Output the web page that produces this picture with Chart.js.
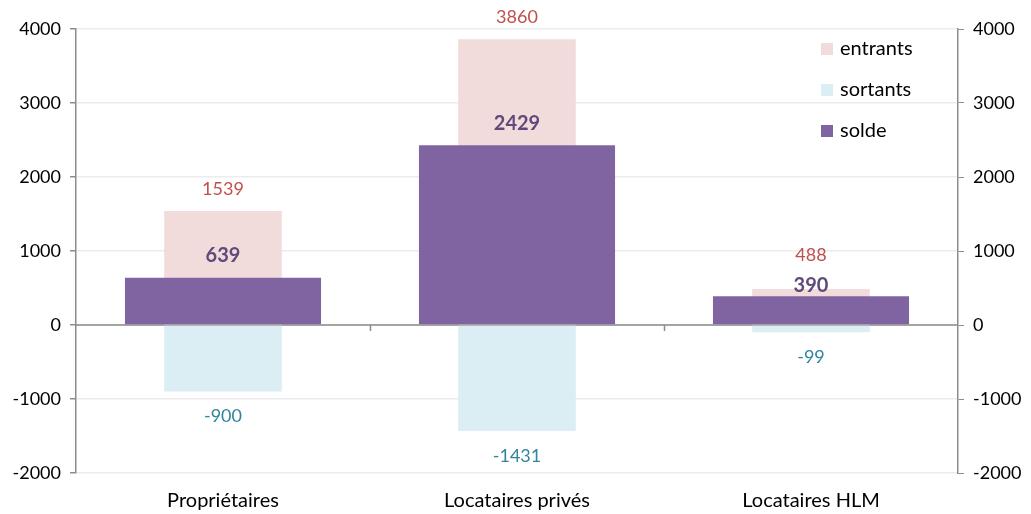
<!DOCTYPE html>
<html>
<head>
<meta charset="utf-8">
<script src="https://cdn.jsdelivr.net/npm/chart.js@4"></script>
<style>
html,body{margin:0;padding:0;background:#fff;overflow:hidden;}
#c{display:block;}
</style>
</head>
<body>
<canvas id="c" width="1031" height="514" style="width:1031px;height:514px;"></canvas>
<script>
const categories = ['Propriétaires', 'Locataires privés', 'Locataires HLM'];
const entrants = [1539, 3860, 488];
const sortants = [-900, -1431, -99];
const solde = [639, 2429, 390];
const yTicks = [-2000, -1000, 0, 1000, 2000, 3000, 4000];

const FONT = 'Lato, "Open Sans", sans-serif';
const COL_ENT = '#F2DCDB', COL_SORT = '#DAEEF3', COL_SOLDE = '#8064A2';
const LBL_ENT = '#C0504D', LBL_SORT = '#31859C', LBL_SOLDE = '#604A7B';
const AXIS = '#8c8c8c', GRID = '#ececec';

const labelsPlugin = {
  id: 'labels',
  afterDatasetsDraw(chart) {
    const ctx = chart.ctx;
    const mEnt = chart.getDatasetMeta(0), mSort = chart.getDatasetMeta(1), mSol = chart.getDatasetMeta(2);
    ctx.save();
    ctx.textAlign = 'center';
    ctx.textBaseline = 'middle';
    for (let i = 0; i < categories.length; i++) {
      const eb = mEnt.data[i], sb = mSort.data[i], ob = mSol.data[i];
      let soldeY = ob.y - 22;
      if (eb.y > ob.y - 30) soldeY = ob.y - 11;
      const entY = Math.min(eb.y - 22, soldeY - 30);
      ctx.font = '18px ' + FONT;
      ctx.fillStyle = LBL_ENT;
      ctx.fillText(String(entrants[i]), eb.x, entY);
      ctx.fillStyle = LBL_SORT;
      ctx.fillText(String(sortants[i]), sb.x, sb.y + 25);
      ctx.font = 'bold 20px ' + FONT;
      ctx.fillStyle = LBL_SOLDE;
      ctx.fillText(String(solde[i]), ob.x, soldeY);
    }
    ctx.restore();
  }
};

const axisPlugin = {
  id: 'zeroAxis',
  beforeDatasetsDraw(chart) {
    const ctx = chart.ctx, x = chart.scales.x, y = chart.scales.y;
    const y0 = y.getPixelForValue(0);
    ctx.save();
    ctx.strokeStyle = AXIS;
    ctx.lineWidth = 1.5;
    ctx.beginPath();
    ctx.moveTo(chart.chartArea.left, y0);
    ctx.lineTo(chart.chartArea.right, y0);
    for (let i = 1; i < categories.length; i++) {
      const bx = Math.round((x.getPixelForTick(i - 1) + x.getPixelForTick(i)) / 2) + 0.5;
      ctx.moveTo(bx, y0);
      ctx.lineTo(bx, y0 + 6);
    }
    ctx.stroke();
    ctx.restore();
  }
};

const legendPlugin = {
  id: 'customLegend',
  afterDraw(chart) {
    const ctx = chart.ctx, a = chart.chartArea;
    const items = [0, 1, 2].map(i => chart.data.datasets[i]);
    ctx.save();
    ctx.font = '20px ' + FONT;
    ctx.textBaseline = 'middle';
    ctx.textAlign = 'left';
    items.forEach((ds, k) => {
      const yy = a.top + 20 + k * 41;
      const xx = a.right - 137;
      ctx.fillStyle = ds.backgroundColor;
      ctx.fillRect(xx, yy - 6, 12, 12);
      ctx.fillStyle = '#000';
      ctx.fillText(ds.label, xx + 19, yy);
    });
    ctx.restore();
  }
};

const yCommon = {
  type: 'linear',
  min: -2000, max: 4000,
  afterBuildTicks(s) { s.ticks = yTicks.map(v => ({value: v})); },
  ticks: { color: '#000', font: {family: FONT, size: 18}, padding: 9, callback: v => String(v) },
  border: { color: AXIS, width: 1.5 }
};

new Chart(document.getElementById('c'), {
  type: 'bar',
  data: {
    labels: categories,
    datasets: [
      { label: 'entrants', data: entrants, backgroundColor: COL_ENT, barPercentage: 0.4, categoryPercentage: 1, grouped: false, order: 1 },
      { label: 'sortants', data: sortants, backgroundColor: COL_SORT, barPercentage: 0.4, categoryPercentage: 1, grouped: false, order: 2 },
      { label: 'solde', data: solde, backgroundColor: COL_SOLDE, barPercentage: 0.667, categoryPercentage: 1, grouped: false, order: 0 }
    ]
  },
  options: {
    responsive: false,
    animation: false,
    devicePixelRatio: 1,
    layout: { padding: { top: 29, left: 0, right: 0, bottom: 0 } },
    plugins: { legend: { display: false }, tooltip: { enabled: false } },
    scales: {
      x: {
        grid: { display: false },
        border: { display: false },
        ticks: { color: '#000', font: {family: FONT, size: 20}, padding: 8 },
        afterFit(s) { s.height = 41; }
      },
      y: Object.assign({}, yCommon, {
        position: 'left',
        grid: { color: GRID, lineWidth: 1.5, tickColor: AXIS, tickLength: 6 },
        afterFit(s) { s.width = 76; }
      }),
      y2: Object.assign({}, yCommon, {
        position: 'right',
        grid: { drawOnChartArea: false, tickColor: AXIS, tickLength: 6 },
        afterFit(s) { s.width = 73; }
      })
    }
  },
  plugins: [axisPlugin, labelsPlugin, legendPlugin]
});
</script>
</body>
</html>
